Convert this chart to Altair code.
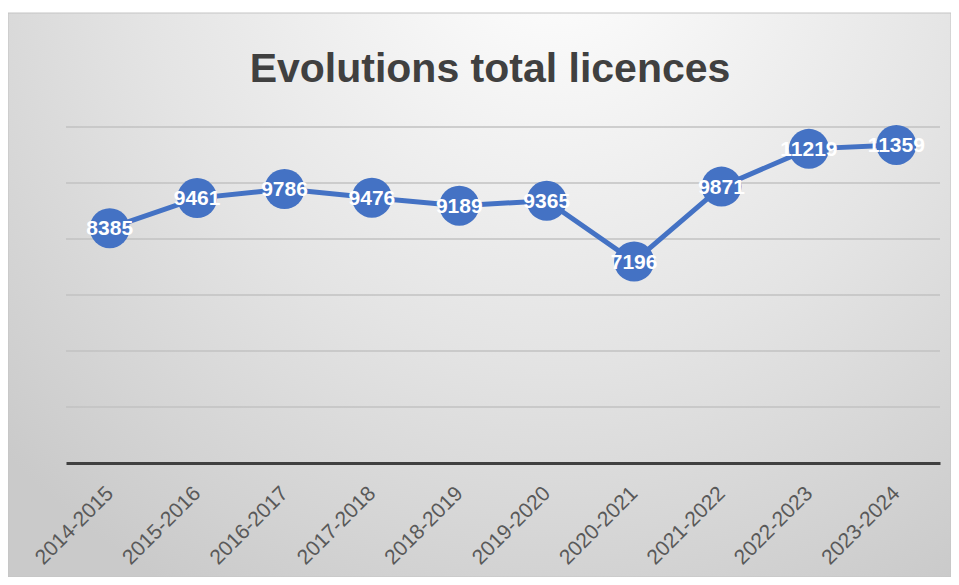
import altair as alt
import pandas as pd

seasons = ["2014-2015", "2015-2016", "2016-2017", "2017-2018", "2018-2019",
           "2019-2020", "2020-2021", "2021-2022", "2022-2023", "2023-2024"]
licences = [8385, 9461, 9786, 9476, 9189, 9365, 7196, 9871, 11219, 11359]
grid_values = [2000, 4000, 6000, 8000, 10000, 12000]
title_text = "Evolutions total licences"

df = pd.DataFrame({"season": seasons, "licences": licences})
grid_df = pd.DataFrame({"g": grid_values})
one_df = pd.DataFrame({"t": [title_text]})

W, H = 874, 336
PAD = {"left": 58, "top": 119, "right": 11, "bottom": 114}

blue = "#4472C4"

xs = alt.X("season:N", sort=seasons,
           scale=alt.Scale(type="point", padding=0.5),
           axis=alt.Axis(title=None, ticks=False, labelAngle=-45,
                         labelAlign="right", labelBaseline="middle",
                         labelPadding=27, labelFont="Liberation Sans",
                         labelFontSize=21, labelColor="#595959",
                         domainColor="#404040", domainWidth=3,
                         grid=False, zindex=1))
ys = alt.Y("licences:Q", scale=alt.Scale(domain=[0, 12000], nice=False),
           axis=None)

background = alt.Chart(one_df).mark_rect(
    fill=alt.RadialGradient(
        gradient="radial",
        stops=[alt.GradientStop(offset=0, color="#ffffff"),
               alt.GradientStop(offset=0.55, color="#e4e4e4"),
               alt.GradientStop(offset=1, color="#cacaca")],
        x1=0.58, y1=0.12, r1=0, x2=0.58, y2=0.12, r2=0.8),
    stroke="#c4c4c4", strokeWidth=1
).encode(
    x=alt.value(-PAD["left"]), x2=alt.value(W + PAD["right"]),
    y=alt.value(5 - PAD["top"]), y2=alt.value(H + PAD["bottom"])
)

title = alt.Chart(one_df).mark_text(
    font="Liberation Sans", fontSize=41, fontWeight="bold", color="#404040",
    align="center", baseline="alphabetic"
).encode(x=alt.value(W / 2 - 13), y=alt.value(-45), text="t:N")

grid = alt.Chart(grid_df).mark_rule(color="#c2c2c2", strokeWidth=1.5).encode(
    y=alt.Y("g:Q", scale=alt.Scale(domain=[0, 12000], nice=False), axis=None)
)

line = alt.Chart(df).mark_line(color=blue, strokeWidth=5).encode(x=xs, y=ys)
points = alt.Chart(df).mark_circle(color=blue, size=1600, opacity=1).encode(x=xs, y=ys)
labels = alt.Chart(df).mark_text(
    color="white", font="Liberation Sans", fontWeight="bold", fontSize=21,
    align="center", baseline="middle", dy=1
).encode(x=xs, y=ys, text=alt.Text("licences:Q", format="d"))

chart = alt.layer(background, title, grid, line, points, labels).properties(
    width=W, height=H,
    padding=PAD,
    autosize=alt.AutoSizeParams(type="none"),
    background="white",
).configure_view(stroke=None)

chart.save("out.html", embed_options={"renderer": "svg", "actions": False})
